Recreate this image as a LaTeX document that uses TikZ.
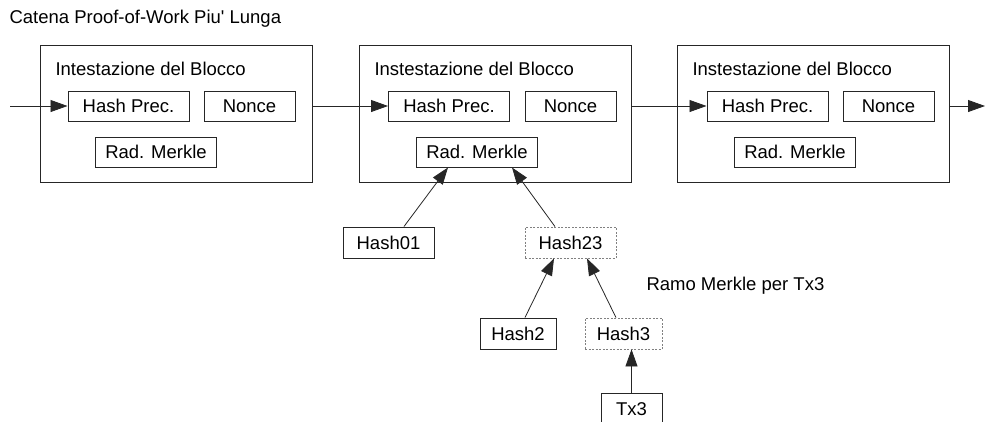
\documentclass[tikz,border=0pt]{standalone}
\usepackage{fontspec}
\setmainfont{Liberation Sans}
\usetikzlibrary{arrows.meta}
\begin{document}
\begin{tikzpicture}[x=1pt, y=-1pt,
                    font=\fontsize{18.5}{22}\selectfont,
                    line width=1pt,
                    draw=black!85]
    \tikzstyle{block}=[draw, minimum width=272pt, minimum height=137pt, inner sep=0pt]
    \tikzstyle{field}=[draw, minimum height=30pt, inner sep=0pt]
    \tikzstyle{hashbox}=[field, minimum height=31pt]
    \tikzstyle{branch}=[hashbox, draw=gray, dash pattern=on 2pt off 1.5pt, line width=0.8pt]
    \tikzstyle{caption}=[anchor=west, inner sep=0pt]
    \tikzstyle{link}=[line width=0.8pt, -{Triangle[length=17pt,width=12pt]}]

    \useasboundingbox (0,0) rectangle (985,421);

    \node[caption] (title) at (9,19) {Catena Proof-of-Work Piu\textquotesingle{} Lunga};

    % blocchi della catena
    \node[block] (blk1) at (176,113.5) {};
    \node[caption] at (55,69) {Intestazione del Blocco};
    \node[field, minimum width=121pt] (prev1) at (128.5,106) {Hash Prec.};
    \node[field, minimum width=91pt] (nonce1) at (249.5,106) {Nonce};
    \node[field, minimum width=121pt] (root1) at (156,152) {Rad. Merkle};

    \node[block] (blk2) at (495,113.5) {};
    \node[caption] at (374,69) {Instestazione del Blocco};
    \node[field, minimum width=121pt] (prev2) at (449,106) {Hash Prec.};
    \node[field, minimum width=91pt] (nonce2) at (570.5,106) {Nonce};
    \node[field, minimum width=121pt] (root2) at (477,152) {Rad. Merkle};

    \node[block] (blk3) at (813,113.5) {};
    \node[caption] at (692,69) {Instestazione del Blocco};
    \node[field, minimum width=121pt] (prev3) at (767.5,106) {Hash Prec.};
    \node[field, minimum width=91pt] (nonce3) at (888.5,106) {Nonce};
    \node[field, minimum width=121pt] (root3) at (795,152) {Rad. Merkle};

    \coordinate (in) at (10,106);
    \coordinate (out) at (985,106);

    \draw[link] (in) -- (prev1.west);
    \draw[link] (blk1.east |- prev2.west) -- (prev2.west);
    \draw[link] (blk2.east |- prev3.west) -- (prev3.west);
    \draw[link] (blk3.east |- out) -- (out);

    % ramo merkle
    \node[hashbox, minimum width=91pt] (h01) at (388.5,242.5) {Hash01};
    \node[branch, minimum width=91pt] (h23) at (570.5,242.5) {Hash23};
    \node[hashbox, minimum width=76pt] (h2) at (518,333.5) {Hash2};
    \node[branch, minimum width=77pt] (h3) at (623.5,333.5) {Hash3};
    \node[hashbox, minimum width=61pt] (tx3) at (631.5,409) {Tx3};
    \node[caption] (branchlbl) at (646,286) {Ramo Merkle per Tx3};

    \draw[link] ([xshift=15.5pt]h01.north) -- ([xshift=-29pt]root2.south);
    \draw[link] ([xshift=-15.5pt]h23.north) -- ([xshift=35pt]root2.south);
    \draw[link] ([xshift=7pt]h2.north) -- ([xshift=-16.5pt]h23.south);
    \draw[link] ([xshift=-7.5pt]h3.north) -- ([xshift=16.5pt]h23.south);
    \draw[link] (tx3.north) -- ([xshift=8pt]h3.south);
\end{tikzpicture}
\end{document}
